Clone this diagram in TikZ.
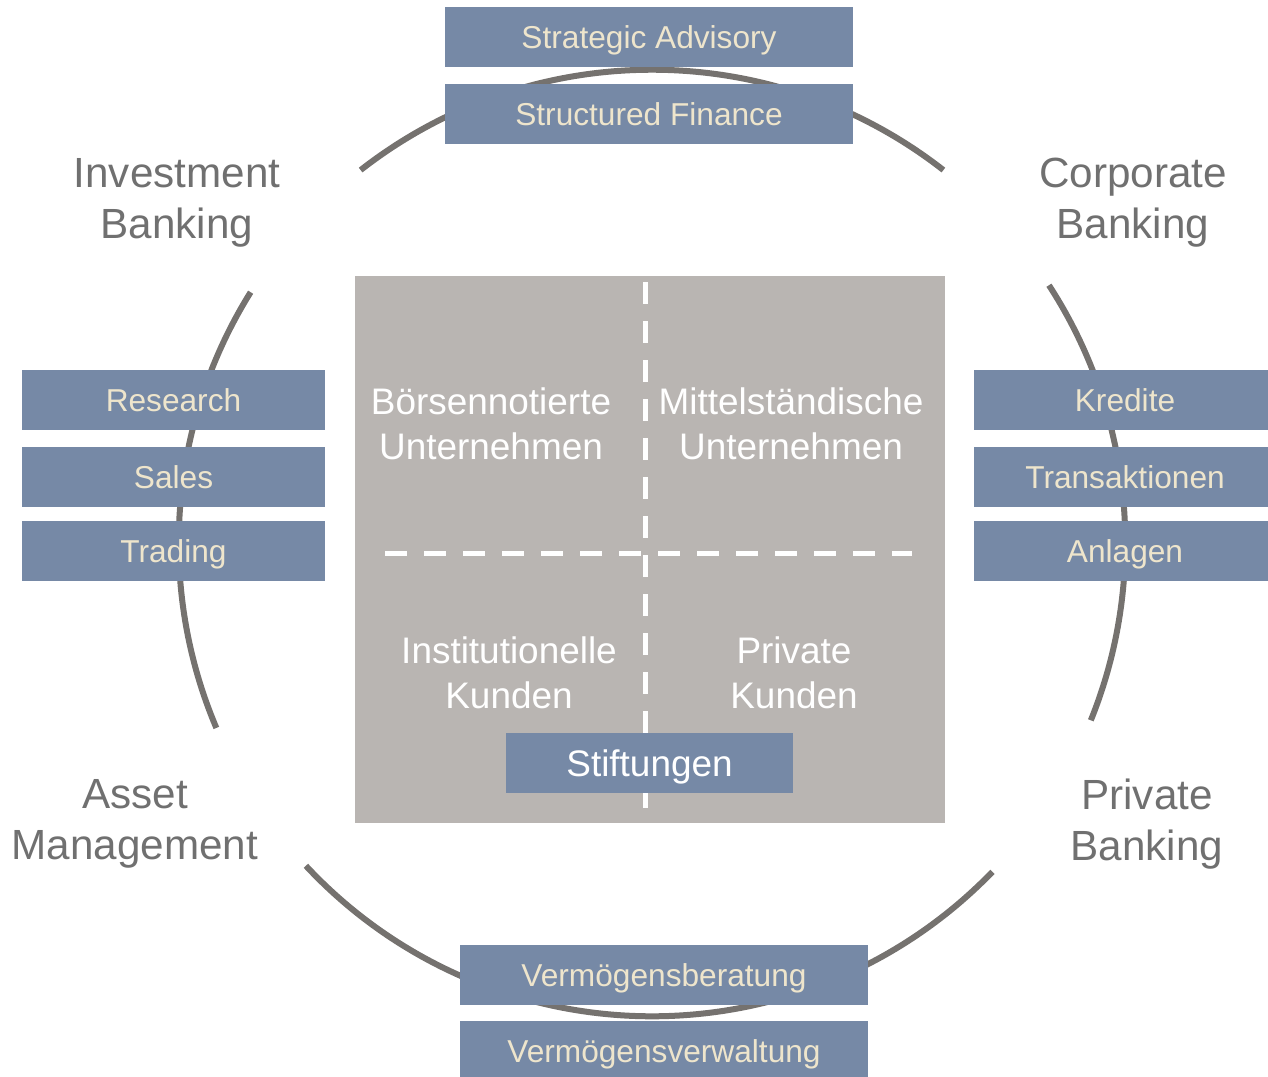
\documentclass[tikz,border=0pt]{standalone}
\usepackage{fontspec}
\setmainfont{Liberation Sans}
\usepackage{tikz}
\usetikzlibrary{positioning, calc}

\definecolor{boxblue}{RGB}{118,137,166}
\definecolor{boxtext}{RGB}{238,229,204}
\definecolor{corefill}{RGB}{185,181,178}
\definecolor{ringgray}{RGB}{117,114,111}
\definecolor{labelgray}{RGB}{112,112,112}

\begin{document}
\begin{tikzpicture}[x=0.01cm, y=0.01cm,
  unit/.style={rectangle, fill=boxblue, text=boxtext, minimum height=0.6cm, inner sep=0pt, text height=0.29cm, text depth=0.063cm, font=\fontsize{9}{10}\selectfont},
  ring/.style={ringgray, line width=0.06cm},
  area/.style={white, align=center, font=\fontsize{10.5}{12.8}\selectfont},
  divider/.style={white, line width=0.05cm, dash pattern=on 0.22cm off 0.17cm},
  segment/.style={labelgray, align=center, font=\fontsize{12}{14.5}\selectfont}]
\useasboundingbox (0,0) rectangle (1268,-1076);

% Ring around the client groups
\coordinate (c) at (652,-543);
\draw[ring] (c) ++(52:4.73cm) arc[start angle=52, end angle=128, radius=4.73cm];
\draw[ring] (c) ++(148:4.73cm) arc[start angle=148, end angle=203, radius=4.73cm];
\draw[ring] (c) ++(223:4.73cm) arc[start angle=223, end angle=316, radius=4.73cm];
\draw[ring] (c) ++(-22:4.73cm) arc[start angle=-22, end angle=33, radius=4.73cm];

% Client groups
\node[fill=corefill, minimum width=5.9cm, minimum height=5.47cm, inner sep=0pt] (core) at (650,-549.5) {};
\draw[divider] (645,-282) -- (645,-808);
\draw[divider] (385,-553) -- (912,-553);

\node[area] (listed) at (491,-424) {Börsennotierte\\Unternehmen};
\node[area] (midcap) at (791,-424) {Mittelständische\\Unternehmen};
\node[area] (inst) at (509,-673) {Institutionelle\\Kunden};
\node[area] (priv) at (794,-673) {Private\\Kunden};
\node[unit, text=white, minimum width=2.87cm, text height=0.33cm, text depth=0.065cm, font=\fontsize{10.5}{12.8}\selectfont] (found) at (649.5,-763) {Stiftungen};

% Business segments
\node[segment] (ib) at (177,-203) {Investment\\Banking};
\node[segment] (cb) at (1133,-203) {Corporate\\Banking};
\node[segment] (am) at (135,-824) {Asset\\Management};
\node[segment] (pb) at (1147,-824) {Private\\Banking};

% Services on the ring
\node[unit, minimum width=4.08cm] (advisory) at (649,-37) {Strategic Advisory};
\node[unit, minimum width=4.08cm, below=0.16cm of advisory] (finance) {Structured Finance};

\node[unit, minimum width=3.03cm] (research) at (173.5,-400) {Research};
\node[unit, minimum width=3.03cm, below=0.16cm of research] (sales) {Sales};
\node[unit, minimum width=3.03cm, below=0.12cm of sales] (trading) {Trading};

\node[unit, minimum width=3.02cm] (credit) at (1125,-400) {Kredite};
\node[unit, minimum width=3.02cm, below=0.16cm of credit] (trans) {Transaktionen};
\node[unit, minimum width=3.02cm, below=0.12cm of trans] (invest) {Anlagen};

\node[unit, minimum width=4.08cm] (advice) at (664,-975) {Vermögensberatung};
\node[unit, minimum width=4.08cm, below=0.15cm of advice] (wealth) {Vermögensverwaltung};
\end{tikzpicture}
\end{document}
